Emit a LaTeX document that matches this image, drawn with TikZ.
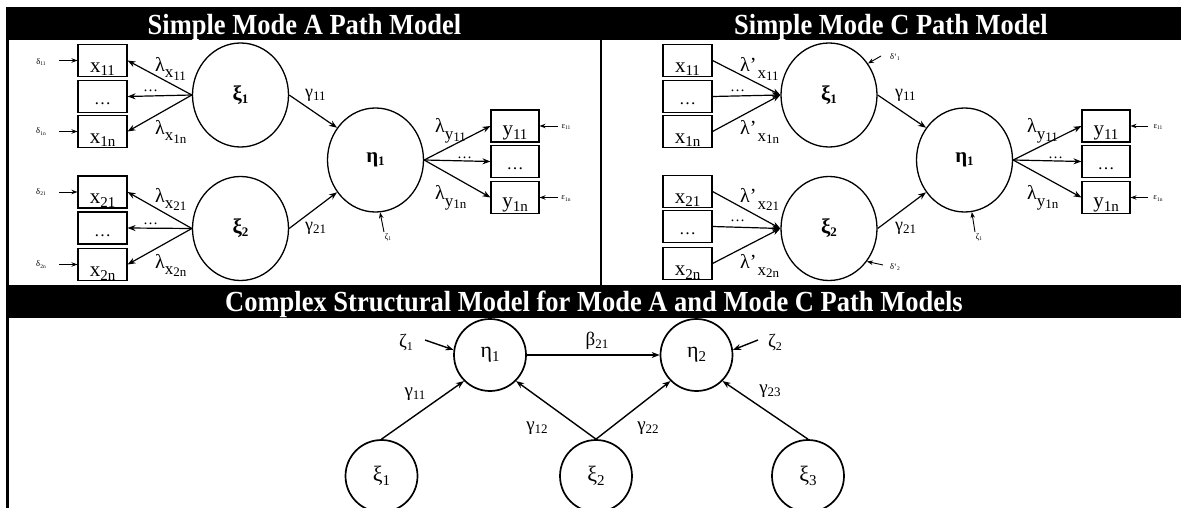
\documentclass[tikz,border=0pt]{standalone}
\usepackage{fontspec}
\setmainfont{Liberation Serif}
\usetikzlibrary{arrows.meta,shapes.geometric}

\newcommand{\fs}[1]{\fontsize{#1}{#1}\selectfont}
% lower #3 by #1 pt, set at size #2
\newcommand{\lowr}[3]{\raisebox{-#1pt}{\fs{#2}#3}}
% indicator names, set low inside their boxes
\newcommand{\ind}[3]{\raisebox{-#1pt}[0pt][0pt]{\fs{21}#2\lowr{3.5}{15}{#3}}}
\newcommand{\xind}[2]{\ind{12}{#1}{#2}}
\newcommand{\yind}[2]{\ind{10}{#1}{#2}}
\newcommand{\more}{\raisebox{-8pt}[0pt][0pt]{\fs{17}…}}
% loadings and path coefficients
\newcommand{\lam}[2]{λ\lowr{6}{17}{#1\lowr{2.5}{13}{#2}}}
\newcommand{\lamw}[2]{λ’\hspace{1pt}\lowr{7}{17}{#1\lowr{2}{13}{#2}}}
\newcommand{\coef}[2]{#1\lowr{3}{13}{#2}}
\newcommand{\err}[2]{#1\lowr{1.5}{5.5}{#2}}
\newcommand{\tall}[1]{\scalebox{1}[1.1]{#1}}

\begin{document}
\begin{tikzpicture}[x=1pt,y=-1pt,
  obs/.style={draw,line width=1.1pt,minimum width=49pt,minimum height=32pt,inner sep=0pt},
  lat/.style={draw,ellipse,line width=1.3pt,minimum width=96pt,minimum height=104pt,inner sep=0pt,font=\fs{21}\bfseries},
  latb/.style={draw,circle,line width=1.7pt,minimum size=72pt,inner sep=0pt,font=\fs{22}},
  link/.style={-{Stealth[length=8pt,width=6pt]},line width=1.2pt},
  slink/.style={-{Stealth[length=6pt,width=4.5pt]},line width=0.9pt},
  blink/.style={-{Stealth[length=8pt,width=6pt]},line width=1.4pt},
  bartitle/.style={text=white,font=\fs{26.5}\bfseries,anchor=base,inner sep=0pt},
  lbl/.style={inner sep=0pt,anchor=base west,font=\fs{20}},
  glbl/.style={inner sep=0pt,anchor=base west,font=\fs{18}},
  errlbl/.style={inner sep=0pt,font=\fs{8.5}},
  dots/.style={inner sep=0pt,anchor=base west,font=\fs{15}},
  blbl/.style={inner sep=0pt,font=\fs{19}},
]
\useasboundingbox (0,0) rectangle (1181,508);

% title bars and frame
\fill (6.25,7) rectangle (1181,40);
\fill (6.25,285) rectangle (1181,318);
\draw[line width=2.5pt] (7.5,40) -- (7.5,508);
\draw[line width=2.5pt] (601,40) -- (601,285);
\node[bartitle] (tA) at (304.5,34.5) {\tall{Simple Mode A Path Model}};
\node[bartitle] (tC) at (891,34.5) {\tall{Simple Mode C Path Model}};
\node[bartitle] (tB) at (594,311.5) {\tall{Complex Structural Model for Mode A and Mode C Path Models}};

% ---------------- Mode A ----------------
\node[obs] (xa1) at (102.5,60.5) {\xind{x}{11}};
\node[obs] (xa2) at (102.5,96.5) {\more};
\node[obs] (xa3) at (102.5,131.5) {\xind{x}{1n}};
\node[obs] (xa4) at (102.5,192) {\xind{x}{21}};
\node[obs] (xa5) at (102.5,228) {\more};
\node[obs] (xa6) at (102.5,264.5) {\xind{x}{2n}};
\node[lat] (xiA1) at (240.5,95) {ξ\lowr{3}{13}{1}};
\node[lat] (xiA2) at (240.5,228.5) {ξ\lowr{3}{13}{2}};
\node[lat] (etaA) at (375.5,160) {η\lowr{3}{13}{1}};
\node[obs,minimum width=48pt] (ya1) at (515,126) {\yind{y}{11}};
\node[obs,minimum width=48pt] (ya2) at (515,161.5) {\more};
\node[obs,minimum width=48pt] (ya3) at (515,197.5) {\yind{y}{1n}};

\draw[link] (xiA1.west) -- (xa1.east);
\draw[link] (xiA1.west) -- (xa2.east);
\draw[link] (xiA1.west) -- (xa3.east);
\draw[link] (xiA2.west) -- (xa4.east);
\draw[link] (xiA2.west) -- (xa5.east);
\draw[link] (xiA2.west) -- (xa6.east);
\draw[link] (xiA1.east) -- (etaA.140);
\draw[link] (xiA2.east) -- (etaA.220);
\draw[link] (etaA.east) -- (ya1.west);
\draw[link] (etaA.east) -- (ya2.west);
\draw[link] (etaA.east) -- (ya3.west);

\node[lbl] (lA1) at (155,72) {\lam{x}{11}};
\node[dots] (mA1) at (143,92) {…};
\node[lbl] (lA2) at (155,135) {\lam{x}{1n}};
\node[lbl] (lA3) at (155,202) {\lam{x}{21}};
\node[dots] (mA2) at (143,224) {…};
\node[lbl] (lA4) at (155,268) {\lam{x}{2n}};
\node[glbl] (gA1) at (305,98) {\coef{γ}{11}};
\node[glbl] (gA2) at (305,230) {\coef{γ}{21}};
\node[lbl] (lA5) at (435,133) {\lam{y}{11}};
\node[dots] (mA3) at (457,159) {…};
\node[lbl] (lA6) at (435,200) {\lam{y}{1n}};

% measurement errors and disturbance
\node[errlbl] (dA1) at (41,62) {\err{δ}{11}};
\node[errlbl] (dA2) at (41,131.5) {\err{δ}{1n}};
\node[errlbl] (dA3) at (41,192) {\err{δ}{21}};
\node[errlbl] (dA4) at (41,264.5) {\err{δ}{2n}};
\coordinate (dA1t) at (59,60.5);
\coordinate (dA2t) at (59,131.5);
\coordinate (dA3t) at (59,192);
\coordinate (dA4t) at (59,264.5);
\draw[slink] (dA1t) -- (xa1.west);
\draw[slink] (dA2t) -- (xa3.west);
\draw[slink] (dA3t) -- (xa4.west);
\draw[slink] (dA4t) -- (xa6.west);
\node[errlbl] (eA1) at (566,127) {\err{ε}{11}};
\node[errlbl] (eA2) at (566,198.5) {\err{ε}{1n}};
\coordinate (eA1t) at (558,126);
\coordinate (eA2t) at (558,197.5);
\draw[slink] (eA1t) -- (ya1.east);
\draw[slink] (eA2t) -- (ya3.east);
\node[errlbl] (zA) at (388,237) {\err{ζ}{1}};
\coordinate (zAt) at (384,232);
\draw[slink] (zAt) -- (etaA.-85);

% ---------------- Mode C ----------------
\node[obs] (xc1) at (687.5,60.5) {\xind{x}{11}};
\node[obs] (xc2) at (687.5,96.5) {\more};
\node[obs] (xc3) at (687.5,131.5) {\xind{x}{1n}};
\node[obs] (xc4) at (687.5,191.5) {\xind{x}{21}};
\node[obs] (xc5) at (687.5,226.5) {\more};
\node[obs] (xc6) at (687.5,263.5) {\xind{x}{2n}};
\node[lat] (xiC1) at (829,95) {ξ\lowr{3}{13}{1}};
\node[lat] (xiC2) at (829,228.5) {ξ\lowr{3}{13}{2}};
\node[lat] (etaC) at (964.5,160) {η\lowr{3}{13}{1}};
\node[obs,minimum width=48pt] (yc1) at (1106,126) {\yind{y}{11}};
\node[obs,minimum width=48pt] (yc2) at (1106,161.5) {\more};
\node[obs,minimum width=48pt] (yc3) at (1106,197.5) {\yind{y}{1n}};

\draw[link] (xc1.east) -- (xiC1.west);
\draw[link] (xc2.east) -- (xiC1.west);
\draw[link] (xc3.east) -- (xiC1.west);
\draw[link] (xc4.east) -- (xiC2.west);
\draw[link] (xc5.east) -- (xiC2.west);
\draw[link] (xc6.east) -- (xiC2.west);
\draw[link] (xiC1.east) -- (etaC.140);
\draw[link] (xiC2.east) -- (etaC.220);
\draw[link] (etaC.east) -- (yc1.west);
\draw[link] (etaC.east) -- (yc2.west);
\draw[link] (etaC.east) -- (yc3.west);

\node[lbl] (lC1) at (740,72) {\lamw{x}{11}};
\node[dots] (mC1) at (730,92) {…};
\node[lbl] (lC2) at (740,135) {\lamw{x}{1n}};
\node[lbl] (lC3) at (740,202) {\lamw{x}{21}};
\node[dots] (mC2) at (730,222) {…};
\node[lbl] (lC4) at (740,268) {\lamw{x}{2n}};
\node[glbl] (gC1) at (895,98) {\coef{γ}{11}};
\node[glbl] (gC2) at (895,230) {\coef{γ}{21}};
\node[lbl] (lC5) at (1027,133) {\lam{y}{11}};
\node[dots] (mC3) at (1048,159) {…};
\node[lbl] (lC6) at (1027,200) {\lam{y}{1n}};

\node[errlbl] (dC1) at (895,57) {\err{δ‘}{1}};
\node[errlbl] (dC2) at (895,267) {\err{δ‘}{2}};
\coordinate (dC1t) at (881,56);
\coordinate (dC2t) at (883,265);
\draw[slink] (dC1t) -- (xiC1.39);
\draw[slink] (dC2t) -- (xiC2.-41.5);
\node[errlbl] (eC1) at (1158,127) {\err{ε}{11}};
\node[errlbl] (eC2) at (1158,198.5) {\err{ε}{1n}};
\coordinate (eC1t) at (1148,126);
\coordinate (eC2t) at (1148,197.5);
\draw[slink] (eC1t) -- (yc1.east);
\draw[slink] (eC2t) -- (yc3.east);
\node[errlbl] (zC) at (979,237) {\err{ζ}{1}};
\coordinate (zCt) at (975,232);
\draw[slink] (zCt) -- (etaC.-82);

% ---------------- structural model ----------------
\node[latb] (eta1) at (490,355) {η\lowr{4}{15}{1}};
\node[latb] (eta2) at (696.5,355) {η\lowr{4}{15}{2}};
\node[latb] (xi1) at (381.5,476) {ξ\lowr{4}{15}{1}};
\node[latb] (xi2) at (596,476) {ξ\lowr{4}{15}{2}};
\node[latb] (xi3) at (808,476) {ξ\lowr{4}{15}{3}};

\draw[blink] (eta1.east) -- (eta2.west);
\draw[blink] (xi1.north) -- (eta1.225);
\draw[blink] (xi2.north) -- (eta1.-45);
\draw[blink] (xi2.north) -- (eta2.225);
\draw[blink] (xi3.north) -- (eta2.-45);
\coordinate (z1t) at (425,340);
\coordinate (z2t) at (758,340);
\draw[blink] (z1t) -- (eta1.172);
\draw[blink] (z2t) -- (eta2.8);

\node[blbl] (zb1) at (406,343) {ζ\lowr{3}{12}{1}};
\node[blbl] (zb2) at (775,343) {ζ\lowr{3}{12}{2}};
\node[blbl] (bb) at (597,341) {β\lowr{3}{13}{21}};
\node[blbl] (gb1) at (415,394) {γ\lowr{3}{13}{11}};
\node[blbl] (gb2) at (537,428) {γ\lowr{3}{13}{12}};
\node[blbl] (gb3) at (648,428) {γ\lowr{3}{13}{22}};
\node[blbl] (gb4) at (770,391) {γ\lowr{3}{13}{23}};
\end{tikzpicture}
\end{document}
